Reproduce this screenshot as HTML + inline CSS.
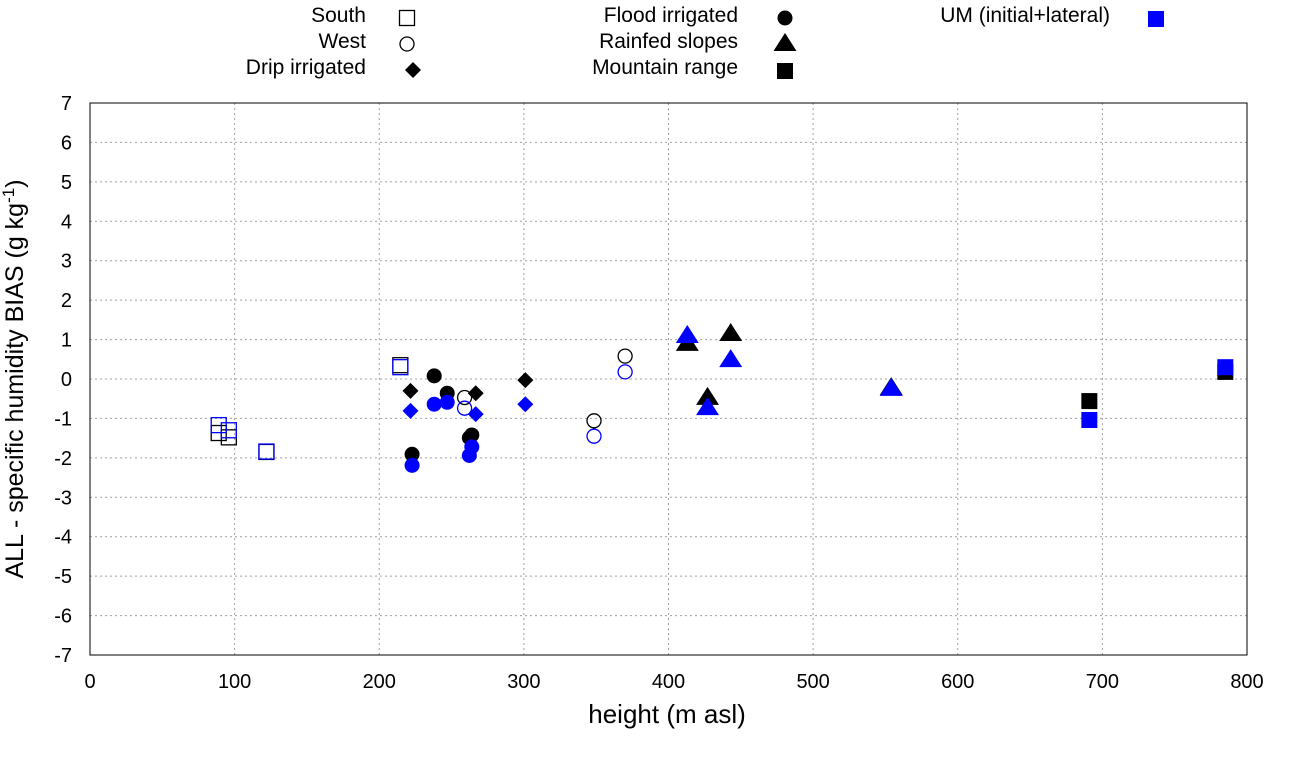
<!DOCTYPE html>
<html><head><meta charset="utf-8"><style>
body{margin:0;background:#fff;}
svg{display:block;font-family:"Liberation Sans",sans-serif;}
</style></head><body>
<svg id="c" width="1290" height="760"></svg>
<script>
const southH=[89,96,122,214.6], southB=[-1.37,-1.48,-1.85,0.35], southU=[-1.17,-1.30,-1.84,0.30];
const westH=[259,370,348.5], westB=[-0.47,0.58,-1.06], westU=[-0.74,0.18,-1.45];
const dripH=[221.6,266.7,301], dripB=[-0.30,-0.36,-0.03], dripU=[-0.81,-0.89,-0.64];
const floodH=[238,247,222.7,262.3,264], floodB=[0.08,-0.36,-1.91,-1.49,-1.42], floodU=[-0.64,-0.59,-2.19,-1.94,-1.72];
const rainH=[413,443,427,554], rainB=[0.89,1.14,-0.48,-0.23], rainU=[1.09,0.48,-0.74,-0.25];
const mtnH=[691,785], mtnB=[-0.56,0.18], mtnU=[-1.04,0.30];
const xTicks=[0,100,200,300,400,500,600,700,800];
const yTicks=[-7,-6,-5,-4,-3,-2,-1,0,1,2,3,4,5,6,7];
const X0=90,X1=1247,Y0=655,Y1=103;
const sx=v=>X0+(v-0)/800*(X1-X0);
const sy=v=>Y0-(v+7)/14*(Y0-Y1);
const NS="http://www.w3.org/2000/svg";
const svg=document.getElementById('c');
function mk(t,a,p){const e=document.createElementNS(NS,t);for(const k in a)e.setAttribute(k,a[k]);(p||svg).appendChild(e);return e;}
const grid=mk('g',{});


xTicks.forEach(v=>{
 if(v>0&&v<800){const l=mk('line',{x1:sx(v),x2:sx(v),y1:Y1,y2:Y0,stroke:'#a0a0a0','stroke-dasharray':'2,3'},grid);
 }
 const t=mk('text',{x:sx(v),y:Y0+33,'text-anchor':'middle','font-size':20},svg);t.textContent=v;
 
});
yTicks.forEach(v=>{
 if(v>-7&&v<7){const l=mk('line',{x1:X0,x2:X1,y1:sy(v),y2:sy(v),stroke:'#a0a0a0','stroke-dasharray':'2,3'},grid);
 }
 const t=mk('text',{x:X0-18,y:sy(v)+7,'text-anchor':'end','font-size':20},svg);t.textContent=v;
 
});
const fr=mk('rect',{x:X0,y:Y1,width:X1-X0,height:Y0-Y1,fill:'none',stroke:'#000'});

function marker(type,x,y,col,g){
 let e;
 if(type==='sqo')e=mk('rect',{x:x-7.5,y:y-7.5,width:15,height:15,fill:'none',stroke:col,'stroke-width':1.3},g);
 else if(type==='sqf')e=mk('rect',{x:x-8,y:y-8,width:16,height:16,fill:col},g);
 else if(type==='cio')e=mk('circle',{cx:x,cy:y,r:7,fill:'none',stroke:col,'stroke-width':1.3},g);
 else if(type==='cif')e=mk('circle',{cx:x,cy:y,r:7.5,fill:col},g);
 else if(type==='dia')e=mk('polygon',{points:`${x},${y-8} ${x+8},${y} ${x},${y+8} ${x-8},${y}`,fill:col},g);
 else if(type==='tri')e=mk('polygon',{points:`${x},${y-11} ${x+11.5},${y+7} ${x-11.5},${y+7}`,fill:col},g);
 return e;
}
function series(name,type,H,V,col){
 const g=mk('g',{});
 
 H.forEach((h,i)=>{const e=marker(type,sx(h),sy(V[i]),col,g);
 });
}
series('south-series','sqo',southH,southB,'#000');series('south-um-series','sqo',southH,southU,'#0000ff');
series('west-series','cio',westH,westB,'#000');series('west-um-series','cio',westH,westU,'#0000ff');
series('drip-series','dia',dripH,dripB,'#000');series('drip-um-series','dia',dripH,dripU,'#0000ff');
series('flood-series','cif',floodH,floodB,'#000');series('flood-um-series','cif',floodH,floodU,'#0000ff');
series('rainfed-series','tri',rainH,rainB,'#000');series('rainfed-um-series','tri',rainH,rainU,'#0000ff');
series('mountain-series','sqf',mtnH,mtnB,'#000');series('mountain-um-series','sqf',mtnH,mtnU,'#0000ff');
const leg=[['South',366,407,15,'sqo','#000'],['West',366,407,41,'cio','#000'],['Drip irrigated',366,413,67,'dia','#000'],
['Flood irrigated',738,785,15,'cif','#000'],['Rainfed slopes',738,785,41,'tri','#000'],['Mountain range',738,785,67,'sqf','#000'],
['UM (initial+lateral)',1110,1156,15,'sqf','#0000ff']];
leg.forEach(l=>{const g=mk('g',{});
 
 const t=mk('text',{x:l[1],y:l[3]+7,'text-anchor':'end','font-size':21},g);t.textContent=l[0];
 marker(l[4],l[2],l[3]+(l[4]==='sqf'?4:3),l[5],g);
});
const xt=mk('text',{x:667,y:723,'text-anchor':'middle','font-size':26});xt.textContent='height (m asl)';

const yt=mk('text',{x:0,y:0,'text-anchor':'middle','font-size':25,transform:'translate(23,379) rotate(-90)'});

yt.innerHTML='ALL - specific humidity BIAS (g kg<tspan dy="-9" font-size="17">-1</tspan><tspan dy="9">)</tspan>';
</script>
</body></html>
